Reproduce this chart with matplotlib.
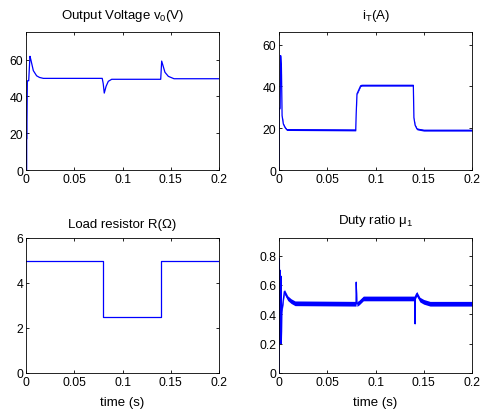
import matplotlib
matplotlib.use("Agg")
import matplotlib.pyplot as plt
import numpy as np

plt.rcParams['font.family'] = ['Liberation Sans', 'DejaVu Sans']
plt.rcParams['mathtext.fontset'] = 'custom'
plt.rcParams['mathtext.rm'] = 'Liberation Sans'
plt.rcParams['mathtext.default'] = 'regular'

# Output voltage v0 (V)
t_v = [0, 0.0007, 0.0007, 0.001, 0.001, 0.0014, 0.0028, 0.0041, 0.0050,
       0.0076, 0.011, 0.014, 0.018, 0.079, 0.0800, 0.0811, 0.0830, 0.0853,
       0.0888, 0.1396, 0.1406, 0.144, 0.1475, 0.1534, 0.2]
v_out = [0, 0, 16.8, 17, 26, 48.5, 48.5, 61.8, 60, 54, 51.2, 50.3, 49.8, 49.8,
         47, 41.8, 45.5, 48.2, 49.3, 49.3, 59.2, 53.1, 50.9, 49.6, 49.6]

# Source current iT (A)
t_i = [0, 0.0001, 0.0012, 0.0017, 0.0025, 0.0032, 0.0045, 0.0062, 0.008,
       0.0795, 0.0800, 0.0808, 0.0846, 0.0860, 0.1392, 0.1398, 0.1410,
       0.1430, 0.150, 0.2]
i_t = [0, 29, 30, 54.7, 49, 26, 22, 20.4, 19.3, 19.1, 27, 36.4, 40.3, 40.5,
       40.5, 25, 21.5, 19.6, 19.0, 19.0]

# Load resistor R (ohm)
t_r = [0, 0.08, 0.08, 0.14, 0.14, 0.2]
r_load = [5, 5, 2.5, 2.5, 5, 5]

# Duty ratio mu1
t_d = [0, 0.0004, 0.0008, 0.0012, 0.0016, 0.0020, 0.0024, 0.0030, 0.0055,
       0.009, 0.0125, 0.0166, 0.0798, 0.0800, 0.0808, 0.0830, 0.0874, 0.1405,
       0.1410, 0.1413, 0.1427, 0.146, 0.150, 0.1565, 0.2]
duty = [0, 0.78, 0.2, 0.7, 0.22, 0.66, 0.2, 0.42, 0.555, 0.51, 0.49, 0.475,
        0.472, 0.619, 0.47, 0.48, 0.508, 0.508, 0.335, 0.52, 0.54, 0.5,
        0.485, 0.472, 0.472]

# half-width of the switching ripple band
ripple_i = 0.4
ripple_d = 0.016

blue = (0, 0, 1)
fs = 8.8
fs_title = 9.5

fig = plt.figure(figsize=(4.82, 4.14), dpi=100)
ax1 = fig.add_axes([26 / 482, 1 - 171 / 414, 193 / 482, 138 / 414])
ax2 = fig.add_axes([279 / 482, 1 - 171 / 414, 193 / 482, 138 / 414])
ax3 = fig.add_axes([26 / 482, 1 - 374 / 414, 193 / 482, 135 / 414])
ax4 = fig.add_axes([279 / 482, 1 - 374 / 414, 193 / 482, 135 / 414])

ax1.plot(t_v, v_out, color=blue, lw=0.9)
ax1.set_ylim(0, 75)
ax1.set_yticks([0, 20, 40, 60])
ax1.set_title('Output Voltage v$_0$(V)', fontsize=fs_title, pad=10)

ti = np.array(t_i)
ii = np.array(i_t)
ax2.fill_between(ti, ii - ripple_i, ii + ripple_i, color=blue, lw=0)
ax2.plot(ti, ii, color=blue, lw=0.9)
ax2.set_ylim(0, 66)
ax2.set_yticks([0, 20, 40, 60])
ax2.set_title('i$_T$(A)', fontsize=fs_title, pad=10)

ax3.plot(t_r, r_load, color=blue, lw=0.9)
ax3.set_ylim(0, 6)
ax3.set_yticks([0, 2, 4, 6])
ax3.set_title('Load resistor R(Ω)', fontsize=fs_title, pad=8)
ax3.set_xlabel('time (s)', fontsize=fs_title, labelpad=6)

td = np.array(t_d)
dd = np.array(duty)
ax4.fill_between(td, dd - ripple_d, dd + ripple_d, color=blue, lw=0)
ax4.plot(td, dd, color=blue, lw=0.9)
ax4.set_ylim(0, 0.92)
ax4.set_yticks([0, 0.2, 0.4, 0.6, 0.8])
ax4.set_yticklabels(['0', '0.2', '0.4', '0.6', '0.8'])
ax4.set_title('Duty ratio μ$_1$', fontsize=fs_title, pad=11)
ax4.set_xlabel('time (s)', fontsize=fs_title, labelpad=6)

for ax in (ax1, ax2, ax3, ax4):
    ax.set_xlim(0, 0.2)
    ax.set_xticks([0, 0.05, 0.1, 0.15, 0.2])
    ax.set_xticklabels(['0', '0.05', '0.1', '0.15', '0.2'])
    ax.tick_params(direction='in', length=2.5, width=0.6, labelsize=fs,
                   top=True, right=True, pad=2)
    for s in ax.spines.values():
        s.set_linewidth(0.6)

fig.savefig('out.png', dpi=100)
